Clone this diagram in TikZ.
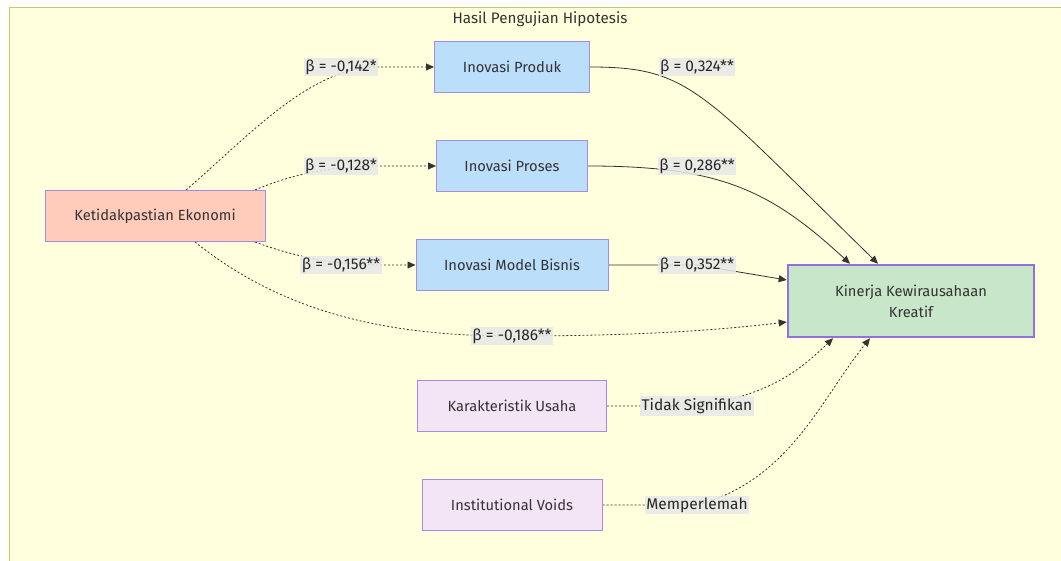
\documentclass[tikz,border=0pt]{standalone}
\usepackage{fontspec}
\setmainfont{Fira Sans}
\usetikzlibrary{arrows.meta}

\definecolor{clusterfill}{HTML}{FFFFDE}
\definecolor{clusterline}{HTML}{C8C86A}
\definecolor{boxline}{HTML}{A58BE6}
\definecolor{outline}{HTML}{9370DB}
\definecolor{inovfill}{HTML}{BBDEFB}
\definecolor{indepfill}{HTML}{FFCCBC}
\definecolor{outfill}{HTML}{C8E6C9}
\definecolor{ctrlfill}{HTML}{F3E5F5}
\definecolor{edgeline}{HTML}{333333}

\pgfdeclarelayer{frame}
\pgfdeclarelayer{edges}
\pgfsetlayers{frame,edges,main}

\begin{document}
\begin{tikzpicture}[x=1pt, y=-1pt,
  box/.style={draw=boxline, line width=1pt, minimum height=51pt, inner sep=0pt,
    text=black!80, font=\fontsize{14.7}{21}\selectfont},
  inov/.style={box, fill=inovfill},
  indep/.style={box, fill=indepfill},
  outcome/.style={box, fill=outfill, line width=2.6pt, draw=outline, align=center},
  ctrl/.style={box, fill=ctrlfill},
  coef/.style={fill=black!9, fill opacity=0.85, text opacity=1, inner xsep=1.5pt,
    inner ysep=2pt, text=black!85, font=\fontsize{15.5}{17}\selectfont},
  sig/.style={draw=edgeline, line width=0.8pt, -{Triangle[length=8pt,width=7pt]}},
  weak/.style={sig, dash pattern=on 2pt off 2pt}]

  % frame of the cluster
  \useasboundingbox (0,0) rectangle (1061,561);
  \begin{pgfonlayer}{frame}
    \clip (0,0) rectangle (1061,561);
    \draw[clusterline, fill=clusterfill, line width=1pt] (9,8) rectangle (1075,575);
  \end{pgfonlayer}
  \node[font=\fontsize{15.2}{18}\selectfont, text=black!80] (title) at (540,19) {Hasil Pengujian Hipotesis};

  % boxes
  \node[indep, minimum width=220pt] (eko) at (155,216) {Ketidakpastian Ekonomi};
  \node[inov, minimum width=155pt] (prod) at (512,67) {Inovasi Produk};
  \node[inov, minimum width=151pt] (pros) at (512,166) {Inovasi Proses};
  \node[inov, minimum width=192pt] (bisn) at (512,265) {Inovasi Model Bisnis};
  \node[outcome, minimum width=246pt, minimum height=72pt] (kin) at (911,301)
    {Kinerja Kewirausahaan\\Kreatif};
  \node[ctrl, minimum width=189pt] (usaha) at (512,406) {Karakteristik Usaha};
  \node[ctrl, minimum width=180pt] (voids) at (512,505) {Institutional Voids};

  % anchors on the outcome box
  \coordinate (kinA) at ([xshift=-33pt]kin.north);
  \coordinate (kinB) at ([xshift=-61pt]kin.north);
  \coordinate (kinC) at ([yshift=21pt]kin.west);
  \coordinate (kinD) at ([yshift=-21pt]kin.west);
  \coordinate (kinE) at ([xshift=-78pt]kin.south);
  \coordinate (kinF) at ([xshift=-41pt]kin.south);

  % coefficient labels
  \node[coef] (b1) at (341,67) {β = -0,142*};
  \node[coef] (b2) at (341,166) {β = -0,128*};
  \node[coef] (b3) at (341,265) {β = -0,156**};
  \node[coef] (b4) at (512,336) {β = -0,186**};
  \node[coef] (b5) at (697,67) {β = 0,324**};
  \node[coef] (b6) at (697,166) {β = 0,286**};
  \node[coef] (b7) at (697,265) {β = 0,352**};
  \node[coef] (b8) at (697,406) {Tidak Signifikan};
  \node[coef] (b9) at (697,505) {Memperlemah};

  \begin{pgfonlayer}{edges}
    % paths from economic uncertainty
    \draw[weak] ([xshift=31pt]eko.north) .. controls (250,135) and (310,67) .. (b1.east) -- (prod.west);
    \draw[weak] ([xshift=100pt]eko.north) .. controls (290,175) and (330,166) .. (b2.east) -- (pros.west);
    \draw[weak] ([xshift=100pt]eko.south) .. controls (290,255) and (330,265) .. (b3.east) -- (bisn.west);
    \draw[weak] ([xshift=40pt]eko.south) .. controls (280,310) and (380,336) .. (b4.center)
      .. controls (640,336) and (720,330) .. (kinD);

    % paths to creative performance
    \draw[sig] (prod.east) .. controls (690,67) and (700,90) .. (kinA);
    \draw[sig] (pros.east) .. controls (720,166) and (770,190) .. (kinB);
    \draw[sig] (bisn.east) -- (b7.center) -- (kinC);
    \draw[weak] (usaha.east) -- (b8.center) .. controls (770,395) and (800,370) .. (kinE);
    \draw[weak] (voids.east) -- (b9.center) .. controls (790,480) and (820,400) .. (kinF);
  \end{pgfonlayer}
\end{tikzpicture}
\end{document}
